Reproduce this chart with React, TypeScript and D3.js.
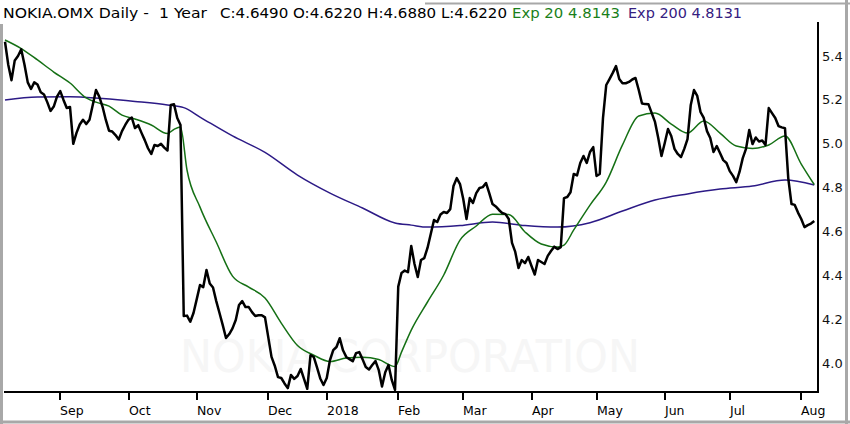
import React, { useRef, useEffect } from 'react';
import * as d3 from 'd3';

// daily closes, one per trading day (Aug 2017 - Aug 2018)
const closes = [
  5.465, 5.36, 5.29, 5.38, 5.40, 5.43, 5.36, 5.28, 5.25, 5.28,
  5.27, 5.235, 5.225, 5.19, 5.15, 5.17, 5.215, 5.24, 5.20, 5.163,
  5.168, 5.00, 5.05, 5.088, 5.11, 5.09, 5.11, 5.177, 5.245, 5.215,
  5.17, 5.11, 5.06, 5.056, 5.04, 5.02, 5.058, 5.086, 5.11, 5.12,
  5.072, 5.085, 5.05, 5.017, 4.98, 4.954, 4.995, 4.99, 5.00, 4.983,
  4.97, 5.177, 5.18, 5.118, 5.086, 4.216, 4.218, 4.19, 4.23, 4.293,
  4.357, 4.348, 4.426, 4.364, 4.346, 4.284, 4.23, 4.175, 4.116, 4.134,
  4.16, 4.198, 4.266, 4.284, 4.257, 4.257, 4.234, 4.216, 4.22, 4.22,
  4.21, 4.12, 4.03, 3.99, 3.938, 3.934, 3.909, 3.888, 3.948, 3.93,
  3.943, 3.975, 3.93, 3.885, 4.038, 4.03, 3.982, 3.932, 3.902, 3.934,
  4.016, 4.061, 4.075, 4.115, 4.06, 4.03, 4.02, 4.01, 4.047, 4.052,
  4.02, 3.984, 3.973, 3.993, 4.011, 3.97, 3.895, 3.96, 3.993, 3.925,
  3.88, 4.35, 4.412, 4.423, 4.416, 4.535, 4.453, 4.394, 4.471, 4.48,
  4.526, 4.59, 4.653, 4.644, 4.678, 4.69, 4.685, 4.703, 4.808, 4.844,
  4.817, 4.749, 4.658, 4.753, 4.731, 4.776, 4.799, 4.803, 4.822, 4.776,
  4.726, 4.715, 4.699, 4.685, 4.68, 4.658, 4.549, 4.508, 4.435, 4.471,
  4.457, 4.485, 4.444, 4.405, 4.471, 4.462, 4.453, 4.49, 4.512, 4.532,
  4.521, 4.53, 4.753, 4.758, 4.78, 4.863, 4.856, 4.913, 4.945, 4.913,
  4.963, 4.985, 4.854, 4.863, 5.118, 5.268, 5.295, 5.323, 5.354, 5.295,
  5.276, 5.276, 5.282, 5.293, 5.30, 5.245, 5.184, 5.181, 5.18, 5.14,
  5.10, 5.027, 4.945, 5.004, 5.068, 5.036, 4.977, 4.954, 4.94, 4.977,
  5.022, 5.177, 5.245, 5.218, 5.145, 5.118, 5.058, 5.027, 4.963, 4.99,
  4.958, 4.926, 4.913, 4.876, 4.854, 4.826, 4.872, 4.935, 4.977, 5.063,
  4.999, 5.029, 5.011, 5.015, 4.995, 5.163, 5.14, 5.118, 5.081, 5.075,
  5.071, 4.844, 4.726, 4.722, 4.687, 4.658, 4.621, 4.63, 4.637, 4.649,
];

// Exp 20 average, read at selected trading days
const ema20Days = [0, 5, 10, 15, 20, 25, 28, 32, 36, 40, 45, 50, 52, 54, 56, 60, 65, 70, 75, 80, 85, 90, 95, 100, 105, 110, 115, 120, 122, 125, 130, 135, 140, 145, 150, 155, 160, 165, 170, 172, 175, 180, 185, 190, 195, 200, 205, 210, 215, 220, 225, 230, 235, 240, 245, 249];
const ema20 = [5.473, 5.434, 5.382, 5.327, 5.277, 5.209, 5.19, 5.172, 5.131, 5.113, 5.086, 5.047, 5.066, 5.077, 4.881, 4.712, 4.553, 4.398, 4.348, 4.298, 4.184, 4.082, 4.038, 4.009, 4.025, 4.029, 4.018, 3.986, 4.052, 4.152, 4.28, 4.403, 4.562, 4.626, 4.68, 4.678, 4.599, 4.544, 4.53, 4.539, 4.608, 4.721, 4.826, 4.995, 5.127, 5.14, 5.09, 5.049, 5.104, 5.049, 4.99, 4.979, 4.995, 5.036, 4.908, 4.8143];

// Exp 200 average, read at selected trading days
const ema200Days = [0, 10, 20, 30, 40, 50, 55, 60, 70, 80, 90, 100, 110, 120, 125, 130, 140, 150, 160, 170, 180, 190, 200, 210, 220, 230, 240, 249];
const ema200 = [5.20, 5.213, 5.215, 5.206, 5.193, 5.177, 5.165, 5.122, 5.036, 4.961, 4.858, 4.776, 4.708, 4.64, 4.63, 4.621, 4.628, 4.644, 4.628, 4.621, 4.641, 4.694, 4.744, 4.772, 4.794, 4.808, 4.835, 4.8131];

// month ticks (trading-day index of first session in month)
const monthTickDays = [17, 38, 59, 81, 99, 121, 141, 162, 182, 203, 223, 245];
const monthLabels = ['Sep', 'Oct', 'Nov', 'Dec', '2018', 'Feb', 'Mar', 'Apr', 'May', 'Jun', 'Jul', 'Aug'];

const priceTicks = [4.0, 4.2, 4.4, 4.6, 4.8, 5.0, 5.2, 5.4];

const titleParts = [
  { text: 'NOKIA.OMX Daily -\u00a0\u00a01 Year', x: 3, w: 204, color: '#000' },
  { text: 'C:4.6490 O:4.6220 H:4.6880 L:4.6220', x: 220, w: 287, color: '#000' },
  { text: 'Exp 20 4.8143', x: 512, w: 108, color: '#1a7f1a' },
  { text: 'Exp 200 4.8131', x: 628, w: 114, color: '#35207f' },
];

export default function App() {
  const svgRef = useRef<SVGSVGElement | null>(null);

  useEffect(() => {
    const width = 850;
    const height = 424;
    const plot = { left: 4, right: 818, top: 22, bottom: 392 };
    const font = 'DejaVu Sans, Verdana, sans-serif';

    d3.select(svgRef.current).selectAll('*').remove();

    const svg = d3
      .select(svgRef.current)
      .attr('width', width)
      .attr('height', height);

    svg.append('rect')
      .attr('width', width)
      .attr('height', height)
      .attr('fill', 'white');

    const x = d3.scaleLinear().domain([0, closes.length - 1]).range([5, 814.25]);
    const y = d3.scaleLinear().domain([4.0, 5.4]).range([363.5, 56]);

    // watermark
    svg.append('text')
      .attr('x', 410)
      .attr('y', 372)
      .attr('text-anchor', 'middle')
      .attr('font-family', font)
      .attr('font-size', 44)
      .attr('fill', '#f6f6f6')
      .attr('textLength', 460)
      .attr('lengthAdjust', 'spacingAndGlyphs')
      .text('NOKIA CORPORATION');

    // averages
    const ema200Line = d3.line<number>()
      .x((_, i) => x(ema200Days[i]))
      .y((d) => y(d))
      .curve(d3.curveMonotoneX);
    svg.append('path')
      .attr('d', ema200Line(ema200))
      .attr('fill', 'none')
      .attr('stroke', '#2c1a86')
      .attr('stroke-width', 1.5);

    const ema20Line = d3.line<number>()
      .x((_, i) => x(ema20Days[i]))
      .y((d) => y(d))
      .curve(d3.curveMonotoneX);
    svg.append('path')
      .attr('d', ema20Line(ema20))
      .attr('fill', 'none')
      .attr('stroke', '#157015')
      .attr('stroke-width', 1.5);

    // price
    const priceLine = d3.line<number>()
      .x((_, i) => x(i))
      .y((d) => y(d));
    svg.append('path')
      .attr('d', priceLine(closes))
      .attr('fill', 'none')
      .attr('stroke', '#000')
      .attr('stroke-width', 2.5)
      .attr('stroke-linejoin', 'round');

    // axes frame
    svg.append('line')
      .attr('x1', plot.left).attr('x2', plot.right + 1)
      .attr('y1', plot.bottom).attr('y2', plot.bottom)
      .attr('stroke', '#000').attr('stroke-width', 2);
    svg.append('line')
      .attr('x1', plot.right).attr('x2', plot.right)
      .attr('y1', plot.top).attr('y2', plot.bottom)
      .attr('stroke', '#000').attr('stroke-width', 2);

    monthTickDays.forEach((d, i) => {
      const tx = Math.round(x(d));
      svg.append('line')
        .attr('x1', tx).attr('x2', tx)
        .attr('y1', plot.bottom).attr('y2', plot.bottom + 8)
        .attr('stroke', '#000').attr('stroke-width', 2);
      svg.append('text')
        .attr('x', tx)
        .attr('y', 415)
        .attr('font-family', font)
        .attr('font-size', 12.5)
        .attr('fill', '#000')
        .text(monthLabels[i]);
    });

    priceTicks.forEach((v) => {
      svg.append('text')
        .attr('x', 822)
        .attr('y', y(v) + 4.5)
        .attr('font-family', font)
        .attr('font-size', 13)
        .attr('fill', '#111')
        .text(v.toFixed(1));
    });

    // title
    titleParts.forEach((p) => {
      svg.append('text')
        .attr('x', p.x)
        .attr('y', 18)
        .attr('font-family', font)
        .attr('font-size', 14)
        .attr('fill', p.color)
        .attr('textLength', p.w)
        .attr('lengthAdjust', 'spacingAndGlyphs')
        .text(p.text);
    });

    // window bevel
    const gray = '#a8a8a8';
    svg.append('line').attr('x1', 1.5).attr('x2', 1.5).attr('y1', 24).attr('y2', height)
      .attr('stroke', gray).attr('stroke-width', 3);
    svg.append('line').attr('x1', 0).attr('x2', width).attr('y1', 422).attr('y2', 422)
      .attr('stroke', gray).attr('stroke-width', 3);
    svg.append('line').attr('x1', 846.5).attr('x2', 846.5).attr('y1', 0).attr('y2', height)
      .attr('stroke', gray).attr('stroke-width', 3);
    svg.append('line').attr('x1', 425).attr('x2', width).attr('y1', 3.5).attr('y2', 3.5)
      .attr('stroke', gray).attr('stroke-width', 2);
  }, []);

  return <svg ref={svgRef} style={{ position: 'absolute', left: 0, top: 0 }}></svg>;
}
